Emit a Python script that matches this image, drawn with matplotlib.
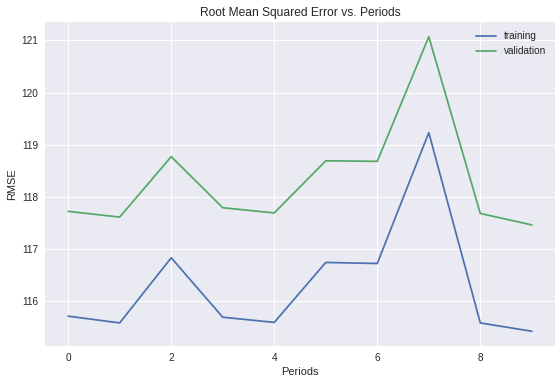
import matplotlib
matplotlib.use("Agg")
import matplotlib.pyplot as plt

plt.style.use("seaborn-v0_8")
plt.rcParams['font.family'] = ['Liberation Sans', 'DejaVu Sans']

periods = list(range(10))
training = [115.71, 115.58, 116.83, 115.69, 115.59, 116.74, 116.72, 119.23, 115.58, 115.42]
validation = [117.72, 117.61, 118.77, 117.79, 117.69, 118.69, 118.68, 121.07, 117.68, 117.46]

fig = plt.figure(figsize=(560/72, 384/72), dpi=72)
ax = fig.add_axes([45/560, 1-346/384, (555-45)/560, (346-22)/384])
ax.plot(periods, training, label="training")
ax.plot(periods, validation, label="validation")
ax.set_title("Root Mean Squared Error vs. Periods", fontsize=12)
ax.set_xlabel("Periods", fontsize=11)
ax.set_ylabel("RMSE", fontsize=11)
ax.tick_params(labelsize=10)
ax.legend(loc="upper right", fontsize=10)
fig.savefig("out.png", dpi=72)
